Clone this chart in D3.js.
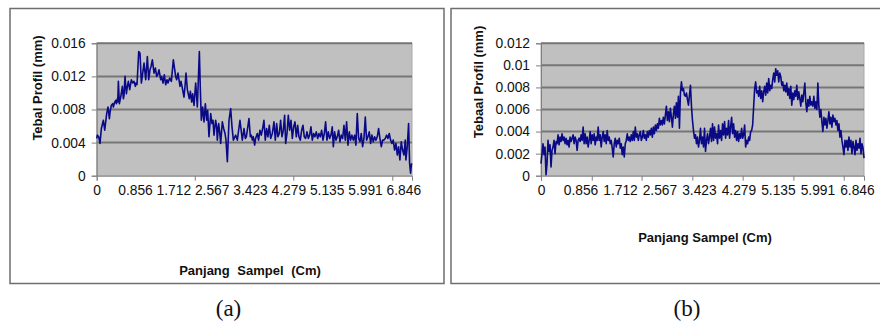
<!DOCTYPE html>
<html>
<head>
<meta charset="utf-8">
<script src="https://d3js.org/d3.v7.min.js"></script>
<style>
  body { margin: 0; background: #fff; }
  svg text { font-family: "Liberation Sans", Arial, sans-serif; fill: #111; }
  .caption { font-family: "Liberation Serif", "Times New Roman", serif; }
</style>
</head>
<body>
<svg id="chart" width="880" height="331"></svg>
<script>
// ---- data ----
const captions = ["(a)", "(b)"];
const xTitle = "Panjang Sampel (Cm)";
const yTitleA = "Tebal Profil (mm)";
const yTitleB = "Tebaal Profil (mm)";

const xTickLabels = [0, 0.856, 1.712, 2.567, 3.423, 4.279, 5.135, 5.991, 6.846];
const xTickMarksA = [0, 2.19, 4.39, 6.6];
const xTickMarksB = [0, 1.1, 2.18, 3.28, 4.37, 5.47, 6.56];
const yTicksA = [0, 0.004, 0.008, 0.012, 0.016];
const yTicksB = [0, 0.002, 0.004, 0.006, 0.008, 0.01, 0.012];

// (a): [panjang cm, tebal mm]
const profileA = [
  [0,0.0045],[0.015,0.0049],[0.045,0.0047],[0.074,0.0039],[0.104,0.0057],[0.149,0.0067],[0.179,0.0055],[0.223,0.0075],
  [0.253,0.0083],[0.283,0.0069],[0.298,0.0077],[0.327,0.0085],[0.357,0.0087],[0.372,0.0083],[0.402,0.0089],[0.424,0.0091],
  [0.439,0.0087],[0.461,0.0093],[0.469,0.0089],[0.484,0.0114],[0.506,0.0087],[0.536,0.0095],[0.573,0.0108],[0.595,0.0093],
  [0.610,0.0097],[0.632,0.0120],[0.662,0.0099],[0.685,0.0108],[0.707,0.0114],[0.737,0.0104],[0.774,0.0116],[0.804,0.0112],
  [0.833,0.0114],[0.863,0.0108],[0.878,0.0112],[0.900,0.0110],[0.938,0.0150],[0.967,0.0148],[0.997,0.0112],[1.027,0.0124],
  [1.057,0.0136],[1.094,0.0116],[1.131,0.0144],[1.161,0.0116],[1.190,0.0128],[1.213,0.0132],[1.243,0.0140],[1.280,0.0124],
  [1.310,0.0130],[1.339,0.0120],[1.362,0.0122],[1.391,0.0128],[1.429,0.0116],[1.451,0.0120],[1.481,0.0112],[1.510,0.0122],
  [1.540,0.0110],[1.570,0.0116],[1.592,0.0112],[1.629,0.0118],[1.667,0.0114],[1.711,0.0140],[1.763,0.0120],[1.786,0.0116],
  [1.815,0.0124],[1.860,0.0108],[1.882,0.0114],[1.912,0.0106],[1.949,0.0095],[1.972,0.0108],[1.994,0.0124],[2.024,0.0104],
  [2.068,0.0093],[2.091,0.0102],[2.121,0.0089],[2.143,0.0099],[2.173,0.0085],[2.210,0.0112],[2.247,0.0083],[2.292,0.0150],
  [2.314,0.0104],[2.336,0.0067],[2.366,0.0083],[2.396,0.0065],[2.426,0.0087],[2.455,0.0067],[2.478,0.0079],[2.507,0.0047],
  [2.545,0.0075],[2.574,0.0063],[2.597,0.0067],[2.619,0.0049],[2.656,0.0067],[2.679,0.0059],[2.693,0.0043],[2.723,0.0063],
  [2.746,0.0053],[2.768,0.0039],[2.805,0.0065],[2.835,0.0057],[2.865,0.0051],[2.887,0.0043],[2.917,0.0017],[2.954,0.0067],
  [2.991,0.0081],[3.021,0.0059],[3.051,0.0043],[3.103,0.0049],[3.140,0.0043],[3.199,0.0067],[3.251,0.0043],[3.289,0.0057],
  [3.318,0.0045],[3.341,0.0047],[3.363,0.0055],[3.400,0.0069],[3.430,0.0047],[3.452,0.0049],[3.475,0.0043],[3.497,0.0047],
  [3.527,0.0037],[3.548,0.0045],[3.586,0.0051],[3.615,0.0043],[3.645,0.0055],[3.675,0.0049],[3.705,0.0057],[3.734,0.0067],
  [3.764,0.0043],[3.794,0.0057],[3.824,0.0047],[3.854,0.0061],[3.884,0.0045],[3.921,0.0051],[3.958,0.0065],[3.988,0.0043],
  [4.018,0.0063],[4.047,0.0047],[4.077,0.0051],[4.107,0.0067],[4.137,0.0047],[4.167,0.0055],[4.196,0.0073],[4.219,0.0039],
  [4.249,0.0051],[4.278,0.0073],[4.308,0.0055],[4.338,0.0067],[4.368,0.0045],[4.397,0.0059],[4.427,0.0065],[4.457,0.0047],
  [4.487,0.0061],[4.516,0.0047],[4.546,0.0043],[4.576,0.0055],[4.606,0.0061],[4.635,0.0047],[4.665,0.0045],[4.695,0.0053],
  [4.725,0.0045],[4.754,0.0049],[4.784,0.0059],[4.814,0.0043],[4.844,0.0051],[4.873,0.0047],[4.903,0.0053],[4.933,0.0045],
  [4.963,0.0051],[4.992,0.0047],[5.022,0.0055],[5.052,0.0043],[5.082,0.0051],[5.111,0.0065],[5.141,0.0043],[5.171,0.0053],
  [5.201,0.0045],[5.230,0.0049],[5.260,0.0059],[5.283,0.0035],[5.312,0.0053],[5.342,0.0043],[5.372,0.0047],[5.402,0.0055],
  [5.431,0.0041],[5.461,0.0049],[5.491,0.0045],[5.521,0.0061],[5.550,0.0043],[5.580,0.0065],[5.610,0.0037],[5.640,0.0053],
  [5.669,0.0043],[5.699,0.0049],[5.729,0.0043],[5.759,0.0049],[5.788,0.0037],[5.818,0.0075],[5.848,0.0045],[5.878,0.0041],
  [5.907,0.0051],[5.937,0.0035],[5.967,0.0045],[5.997,0.0071],[6.026,0.0043],[6.056,0.0047],[6.086,0.0053],[6.116,0.0039],
  [6.145,0.0049],[6.175,0.0041],[6.205,0.0047],[6.235,0.0043],[6.264,0.0047],[6.294,0.0057],[6.324,0.0045],[6.354,0.0035],
  [6.383,0.0043],[6.413,0.0043],[6.443,0.0045],[6.473,0.0049],[6.502,0.0045],[6.532,0.0051],[6.562,0.0043],[6.592,0.0039],
  [6.621,0.0043],[6.651,0.0031],[6.681,0.0039],[6.711,0.0025],[6.740,0.0035],[6.770,0.0019],[6.800,0.0041],[6.830,0.0031],
  [6.860,0.0025],[6.889,0.0043],[6.904,0.0019],[6.934,0.0035],[6.964,0.0063],[6.986,0.0015],[7.008,0.0003],[7.030,0.0015]
];

// (b): evenly sampled tebal (mm), one sample every 0.02174 cm
const sampleStepB = 0.02174;
const profileB = [
  0.0011,0.0020,0.0029,0.0019,0.0026,0.0001,0.0011,0.0032,0.0022,0.0028,0.0008,0.0023,0.0026,0.0032,0.0020,0.0031,
  0.0029,0.0037,0.0028,0.0035,0.0031,0.0038,0.0032,0.0035,0.0029,0.0034,0.0028,0.0032,0.0026,0.0035,0.0031,0.0034,
  0.0037,0.0029,0.0035,0.0032,0.0023,0.0032,0.0034,0.0031,0.0037,0.0032,0.0044,0.0029,0.0038,0.0029,0.0035,0.0026,
  0.0032,0.0040,0.0029,0.0037,0.0032,0.0038,0.0028,0.0035,0.0032,0.0044,0.0032,0.0037,0.0026,0.0035,0.0040,0.0031,
  0.0037,0.0029,0.0041,0.0032,0.0035,0.0029,0.0032,0.0025,0.0017,0.0029,0.0034,0.0026,0.0032,0.0029,0.0034,0.0025,
  0.0029,0.0019,0.0026,0.0017,0.0029,0.0032,0.0038,0.0032,0.0035,0.0031,0.0037,0.0032,0.0040,0.0032,0.0044,0.0035,
  0.0038,0.0032,0.0037,0.0040,0.0032,0.0035,0.0041,0.0034,0.0037,
  0.0032,0.0040,0.0035,0.0041,0.0037,0.0043,0.0035,0.0044,0.0038,0.0046,0.0041,0.0047,0.0043,0.0052,0.0046,0.0050,
  0.0046,0.0053,0.0047,0.0055,0.0063,0.0050,0.0058,0.0049,0.0061,0.0053,0.0044,0.0056,0.0063,0.0052,0.0066,0.0053,
  0.0072,0.0043,0.0075,0.0085,0.0077,0.0079,0.0073,0.0072,0.0075,0.0069,0.0064,0.0073,0.0082,0.0063,0.0050,0.0041,
  0.0034,0.0037,0.0029,0.0035,0.0026,0.0032,0.0043,0.0029,0.0035,0.0026,0.0043,0.0022,0.0032,0.0038,0.0029,0.0035,
  0.0043,0.0031,0.0047,0.0032,0.0044,0.0034,0.0038,0.0029,0.0046,0.0034,0.0041,0.0032,0.0047,0.0037,0.0049,0.0034,
  0.0043,0.0037,0.0050,0.0034,0.0044,0.0053,0.0038,0.0047,0.0035,0.0041,0.0032,0.0040,0.0031,0.0038,0.0034,0.0043,
  0.0034,0.0037,0.0046,0.0026,0.0032,0.0029,0.0035,0.0032,0.0040,0.0041,0.0046,0.0063,
  0.0079,0.0085,0.0075,0.0077,0.0072,0.0081,0.0070,0.0077,0.0067,0.0076,0.0081,0.0073,0.0084,0.0075,0.0088,0.0077,
  0.0082,0.0079,0.0087,0.0093,0.0085,0.0097,0.0091,0.0095,0.0085,0.0093,0.0090,0.0082,0.0085,0.0077,0.0082,0.0076,
  0.0084,0.0073,0.0079,0.0070,0.0081,0.0064,0.0075,0.0069,0.0077,0.0072,0.0082,0.0069,0.0076,0.0070,0.0063,0.0073,
  0.0067,0.0075,0.0084,0.0066,0.0058,0.0069,0.0063,0.0072,0.0064,0.0067,0.0063,0.0072,0.0061,0.0067,0.0060,0.0084,
  0.0063,0.0053,0.0060,0.0049,0.0040,0.0053,0.0046,0.0052,0.0043,0.0050,0.0058,0.0047,0.0053,0.0044,0.0055,0.0049,
  0.0052,0.0046,0.0050,0.0041,0.0047,0.0035,0.0041,0.0032,0.0026,0.0019,0.0032,0.0026,0.0032,0.0023,0.0035,0.0026,
  0.0032,0.0020,0.0031,0.0026,0.0019,0.0032,0.0023,0.0029,0.0025,0.0034,0.0020,0.0029,0.0025,0.0016
];

const svg = d3.select("#chart");

function drawPanel(p) {
    // outer frame
    svg.append("rect")
        .attr("x", p.frame[0]).attr("y", p.frame[1])
        .attr("width", p.frame[2]).attr("height", p.frame[3])
        .attr("fill", "none").attr("stroke", "#6e6e6e").attr("stroke-width", 1.5);

    const x = d3.scaleLinear().domain([0, p.xMax]).range([p.left, p.right]);
    const y = d3.scaleLinear().domain([0, p.yMax]).range([p.bottom, p.top]);

    svg.append("rect")
        .attr("x", p.left).attr("y", p.top)
        .attr("width", p.right - p.left).attr("height", p.bottom - p.top)
        .attr("fill", "#c0c0c0").attr("stroke", "#a8a8a8").attr("stroke-width", 1);

    // gridlines
    svg.append("g").selectAll("line")
        .data(p.yTicks.filter(d => d > 0))
        .join("line")
        .attr("x1", p.left).attr("x2", p.right)
        .attr("y1", d => y(d)).attr("y2", d => y(d))
        .attr("stroke", "#767676").attr("stroke-width", 2);

    // y axis
    const yAxis = svg.append("g")
        .attr("transform", `translate(${p.left},0)`)
        .call(d3.axisLeft(y).tickValues(p.yTicks).tickFormat(d => String(d)).tickSize(5).tickPadding(6));
    yAxis.selectAll("text").style("font-size", "13.8px");

    // x axis: tick marks and labels sit on different steps
    svg.append("g")
        .attr("transform", `translate(0,${p.bottom})`)
        .call(d3.axisBottom(x).tickValues(p.xMarks).tickFormat("").tickSize(5));
    const xLabels = svg.append("g")
        .attr("transform", `translate(0,${p.bottom})`)
        .call(d3.axisBottom(x).tickValues(xTickLabels).tickFormat(d => String(d)).tickSize(0).tickPadding(10));
    xLabels.select(".domain").remove();
    xLabels.selectAll("text").style("font-size", "13.8px");

    svg.selectAll(".domain, .tick line").attr("stroke", "#808080");

    // the profile
    const line = d3.line().x(d => x(d[0])).y(d => y(d[1]));
    svg.append("path")
        .datum(p.data)
        .attr("d", line)
        .attr("fill", "none")
        .attr("stroke", "#0a0a86")
        .attr("stroke-width", 1.6)
        .attr("stroke-linejoin", "round");

    // titles
    svg.append("text")
        .attr("x", p.xTitlePos[0]).attr("y", p.xTitlePos[1])
        .attr("text-anchor", "middle")
        .style("font-size", "13px").style("font-weight", "bold")
        .style("word-spacing", p.wordSpacing)
        .text(xTitle);

    svg.append("text")
        .attr("transform", `translate(${p.yTitlePos[0]},${p.yTitlePos[1]}) rotate(-90)`)
        .attr("text-anchor", "middle")
        .style("font-size", "13px").style("font-weight", "bold")
        .text(p.yTitle);

    svg.append("text")
        .attr("class", "caption")
        .attr("x", p.captionPos[0]).attr("y", p.captionPos[1])
        .attr("text-anchor", "middle")
        .style("font-size", "23px")
        .text(p.caption);
}

drawPanel({
    frame: [10, 8.5, 434, 275],
    left: 96.7, right: 412, top: 43.3, bottom: 175.7,
    xMax: 7.04, yMax: 0.016,
    yTicks: yTicksA, xMarks: xTickMarksA,
    data: profileA,
    yTitle: yTitleA,
    xTitlePos: [250, 275], yTitlePos: [41.5, 88], wordSpacing: "4px",
    caption: captions[0], captionPos: [228.5, 316]
});

drawPanel({
    frame: [451, 8.5, 440, 275],
    left: 541, right: 864, top: 43.3, bottom: 175.7,
    xMax: 7.0, yMax: 0.012,
    yTicks: yTicksB, xMarks: xTickMarksB,
    data: profileB.map((v, i) => [i * sampleStepB, v]),
    yTitle: yTitleB,
    xTitlePos: [705, 242], yTitlePos: [482.5, 82], wordSpacing: "0px",
    caption: captions[1], captionPos: [687, 316]
});
</script>
</body>
</html>
